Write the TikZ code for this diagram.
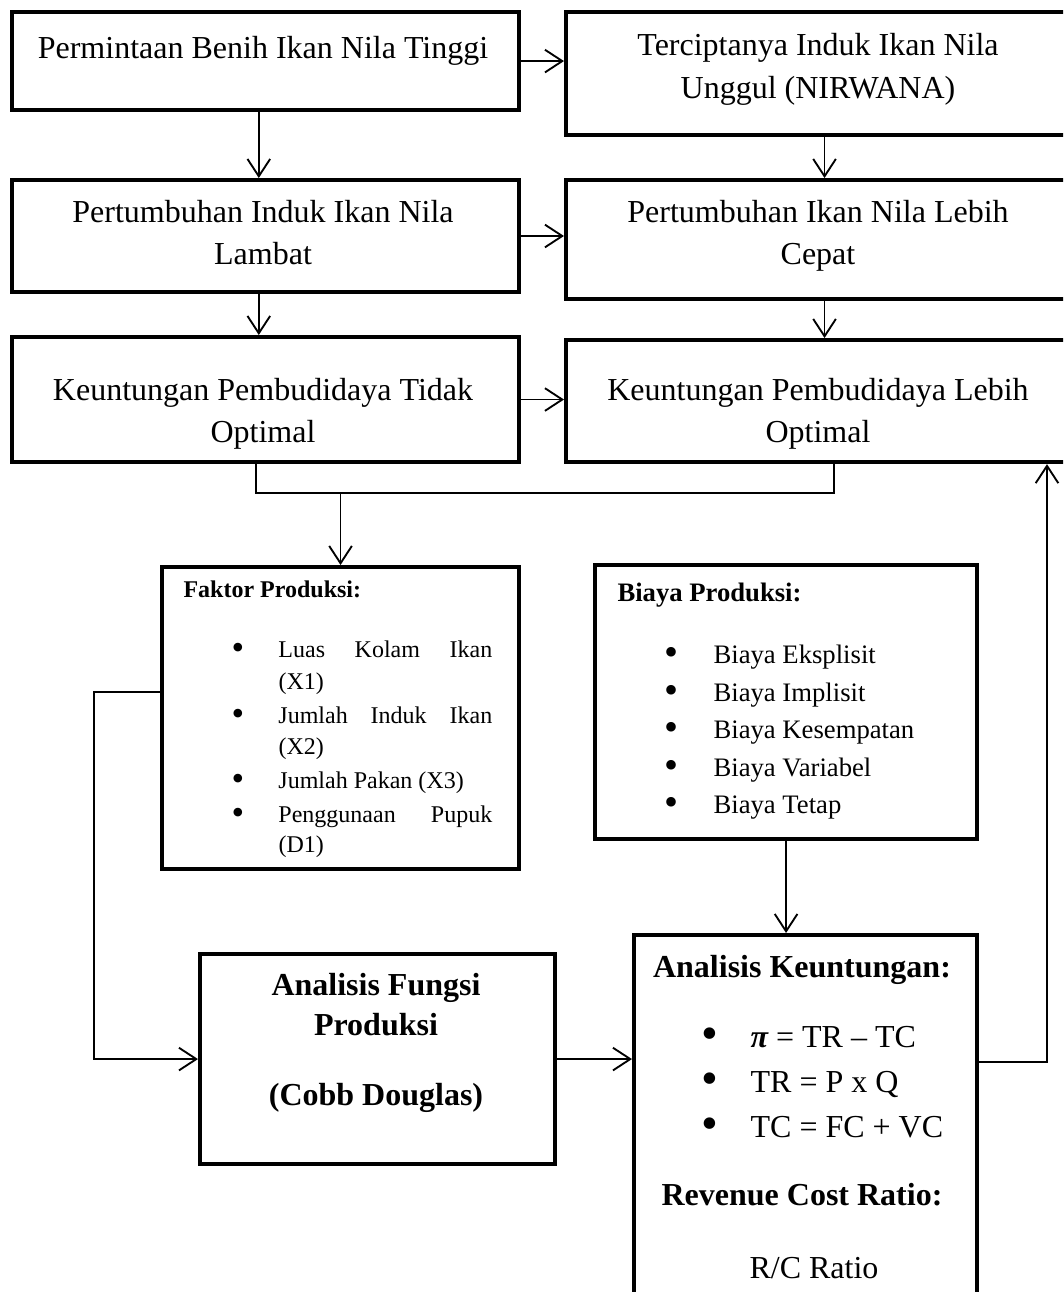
\documentclass[tikz,border=0pt]{standalone}
\usepackage{fontspec}
\setmainfont{Liberation Serif}
\usetikzlibrary{arrows.meta}

\newcommand\bul{\raisebox{-0.09em}{\scalebox{1.5}{\textbullet}}}

\tikzset{
  box/.style={draw, line width=1.5pt, anchor=north west, inner sep=0pt},
  txt/.style={anchor=base, inner sep=0pt, font=\fontsize{12}{14}\selectfont},
  lst/.style={anchor=base west, inner sep=0pt, font=\fontsize{12}{14}\selectfont},
  mid/.style={anchor=base west, inner sep=0pt, font=\fontsize{10}{12}\selectfont},
  sml/.style={anchor=base west, inner sep=0pt, font=\fontsize{9}{11}\selectfont},
  arr/.style={line width=0.7pt, -{Straight Barb[length=6.5pt,width=8.5pt]}},
  ln/.style={line width=0.6pt}
}

\begin{document}
\begin{tikzpicture}[x=0.375pt,y=-0.375pt]
\useasboundingbox (0,0) rectangle (1063,1292);
\clip (0,0) rectangle (1063,1292);
\node[box, minimum width=190.1pt, minimum height=36.8pt] (a1) at (10,10) {};
\node[box, minimum width=190.9pt, minimum height=46.1pt] (b1) at (564,10) {};
\node[box, minimum width=190.1pt, minimum height=42pt] (a2) at (10,178) {};
\node[box, minimum width=190.9pt, minimum height=44.6pt] (b2) at (564,178) {};
\node[box, minimum width=190.1pt, minimum height=46.9pt] (a3) at (10,335) {};
\node[box, minimum width=190.9pt, minimum height=45.8pt] (b3) at (564,338) {};
\node[box, minimum width=133.9pt, minimum height=113.3pt] (fp) at (160,565) {};
\node[box, minimum width=143.3pt, minimum height=102.8pt] (bp) at (593,563) {};
\node[box, minimum width=133.1pt, minimum height=78.8pt] (af) at (198,952) {};
\node[box, minimum width=128.6pt, minimum height=150pt] (ak) at (632,933) {};

\node[txt] (a1t) at (263,58) {Permintaan Benih Ikan Nila Tinggi};
\node[txt] (b1t) at (818,55) {Terciptanya Induk Ikan Nila}; \node[txt] (b1u) at (818,98) {Unggul (NIRWANA)};
\node[txt] (a2t) at (263,222) {Pertumbuhan Induk Ikan Nila}; \node[txt] (a2u) at (263,264) {Lambat};
\node[txt] (b2t) at (818,222) {Pertumbuhan Ikan Nila Lebih}; \node[txt] (b2u) at (818,264) {Cepat};
\node[txt] (a3t) at (263,400) {Keuntungan Pembudidaya Tidak}; \node[txt] (a3u) at (263,442) {Optimal};
\node[txt] (b3t) at (818,400) {Keuntungan Pembudidaya Lebih}; \node[txt] (b3u) at (818,442) {Optimal};

\node[sml] (fph) at (183,597) {\textbf{Faktor Produksi:}};
\node[sml] (fp1) at (231,657) {\makebox[17.6pt][l]{\bul}\makebox[80.2pt][s]{Luas Kolam Ikan}};
\node[sml] (fp1b) at (278,689) {(X1)};
\node[sml] (fp2) at (231,723) {\makebox[17.6pt][l]{\bul}\makebox[80.2pt][s]{Jumlah Induk Ikan}};
\node[sml] (fp2b) at (278,754) {(X2)};
\node[sml] (fp3) at (231,788) {\makebox[17.6pt][l]{\bul}Jumlah Pakan (X3)};
\node[sml] (fp4) at (231,822) {\makebox[17.6pt][l]{\bul}\makebox[80.2pt][s]{Penggunaan Pupuk}};
\node[sml] (fp4b) at (278,852) {(D1)};

\node[mid] (bph) at (617,601) {\textbf{Biaya Produksi:}};
\node[mid] (bp1) at (664,663) {\makebox[18.4pt][l]{\bul}Biaya Eksplisit};
\node[mid] (bp2) at (664,701) {\makebox[18.4pt][l]{\bul}Biaya Implisit};
\node[mid] (bp3) at (664,738) {\makebox[18.4pt][l]{\bul}Biaya Kesempatan};
\node[mid] (bp4) at (664,776) {\makebox[18.4pt][l]{\bul}Biaya Variabel};
\node[mid] (bp5) at (664,813) {\makebox[18.4pt][l]{\bul}Biaya Tetap};

\node[txt] (af1) at (376,995) {\textbf{Analisis Fungsi}};
\node[txt] (af2) at (376,1035) {\textbf{Produksi}};
\node[txt] (af3) at (376,1105) {\textbf{(Cobb Douglas)}};

\node[txt] (akh) at (802,977) {\textbf{Analisis Keuntungan:}};
\node[lst] (ak1) at (701,1047) {\makebox[18.4pt][l]{\bul}{\bfseries\itshape π} = TR – TC};
\node[lst] (ak2) at (701,1092) {\makebox[18.4pt][l]{\bul}TR = P x Q};
\node[lst] (ak3) at (701,1137) {\makebox[18.4pt][l]{\bul}TC = FC + VC};
\node[txt] (rch) at (802,1205) {\textbf{Revenue Cost Ratio:}};
\node[txt] (rc) at (814,1278) {R/C Ratio};

\draw[arr] (a1.east) -- (a1.east -| b1.west);
\draw[arr] (a2.east) -- (a2.east -| b2.west);
\draw[arr] (a3.east) -- (a3.east -| b3.west);
\draw[arr] ([xshift=-2.5pt]a1.south) -- ([xshift=-2.5pt]a2.north);
\draw[arr] ([xshift=-2.5pt]a2.south) -- ([xshift=-2.5pt]a3.north);
\draw[arr] ([xshift=1.5pt]b1.south) -- ([xshift=1.5pt]b2.north);
\draw[arr] ([xshift=1.5pt]b2.south) -- ([xshift=1.5pt]b3.north);

\coordinate (jn) at (338,493);
\draw[ln] ([xshift=-3.5pt]a3.south) |- (jn) -| ([xshift=5pt]b3.south);
\draw[arr] (fp.north |- jn) -- (fp.north);

\coordinate (lf) at (94,692);
\draw[arr] (fp.west |- lf) -- (lf) |- (af.west);
\draw[arr] (af.east) -- (af.east -| ak.west);
\draw[arr] (bp.south) -- (bp.south |- ak.north);
\coordinate (fb) at (1047,1062);
\draw[arr] (ak.east |- fb) -- (fb) -- (fb |- b3.south);
\end{tikzpicture}
\end{document}
